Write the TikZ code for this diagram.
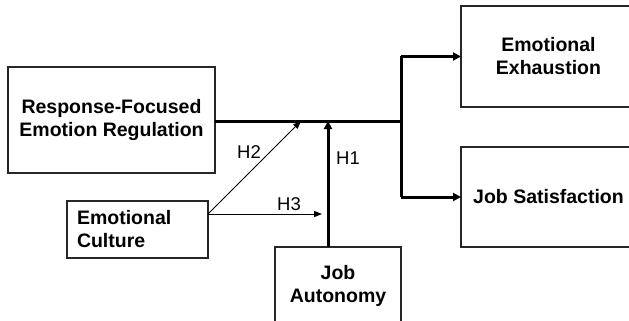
\documentclass[tikz,border=0pt]{standalone}
\usepackage{fontspec}
\setmainfont{Liberation Sans}
\usetikzlibrary{arrows.meta,calc}
\begin{document}
\begin{tikzpicture}[x=1pt,y=-1pt,
  box/.style={draw=black!85, line width=1.3pt, fill=white, inner sep=0pt, outer sep=0pt,
    font=\fontsize{19.5}{23}\selectfont\bfseries, align=center},
  lab/.style={font=\fontsize{18.5}{22}\selectfont, inner sep=0pt},
  thick arrow/.style={line width=3pt, -{Triangle[length=8pt,width=8pt]}},
  thin arrow/.style={line width=1pt, -{Triangle[length=8pt,width=6pt]}},
  thick line/.style={line width=3pt}]
\clip (0,0) rectangle (629,321);
\fill[white] (0,0) rectangle (629,321);
% boxes
\node[box, minimum width=207pt, minimum height=106pt] (rfer) at (111.5,120) {Response-Focused\\Emotion Regulation};
\node[box, minimum width=175pt, minimum height=101pt] (ee) at (548.5,56.5) {Emotional\\Exhaustion};
\node[box, minimum width=175pt, minimum height=100pt] (js) at (548.5,197) {Job Satisfaction};
\node[box, minimum width=141pt, minimum height=57pt, align=left, text width=121pt] (ec) at (137.5,229.5) {Emotional\\Culture};
\node[box, minimum width=126pt, minimum height=78pt] (ja) at (338,286) {Job\\Autonomy};
% coordinates
\coordinate (j) at (401,121);
\coordinate (m1) at (328,121);
\coordinate (m2) at (301,121);
\coordinate (m3) at (322,214);
\coordinate (ecs) at (208,214);
% main lines
\draw[thick line] (rfer.east |- j) -- (j);
\draw[thick line] (j |- ee.west) -- (j |- js.west);
\draw[thick arrow] (j |- ee.west) -- (ee.west);
\draw[thick arrow] (j |- js.west) -- (js.west);
\draw[thick arrow] (ja.north -| m1) -- (m1);
\draw[thin arrow] (ecs) -- (m2);
\draw[thin arrow] (ecs) -- (m3);
% labels
\node[lab] (h1) at (348,158) {H1};
\node[lab] (h2) at (249,152) {H2};
\node[lab] (h3) at (289,204) {H3};
\end{tikzpicture}
\end{document}
